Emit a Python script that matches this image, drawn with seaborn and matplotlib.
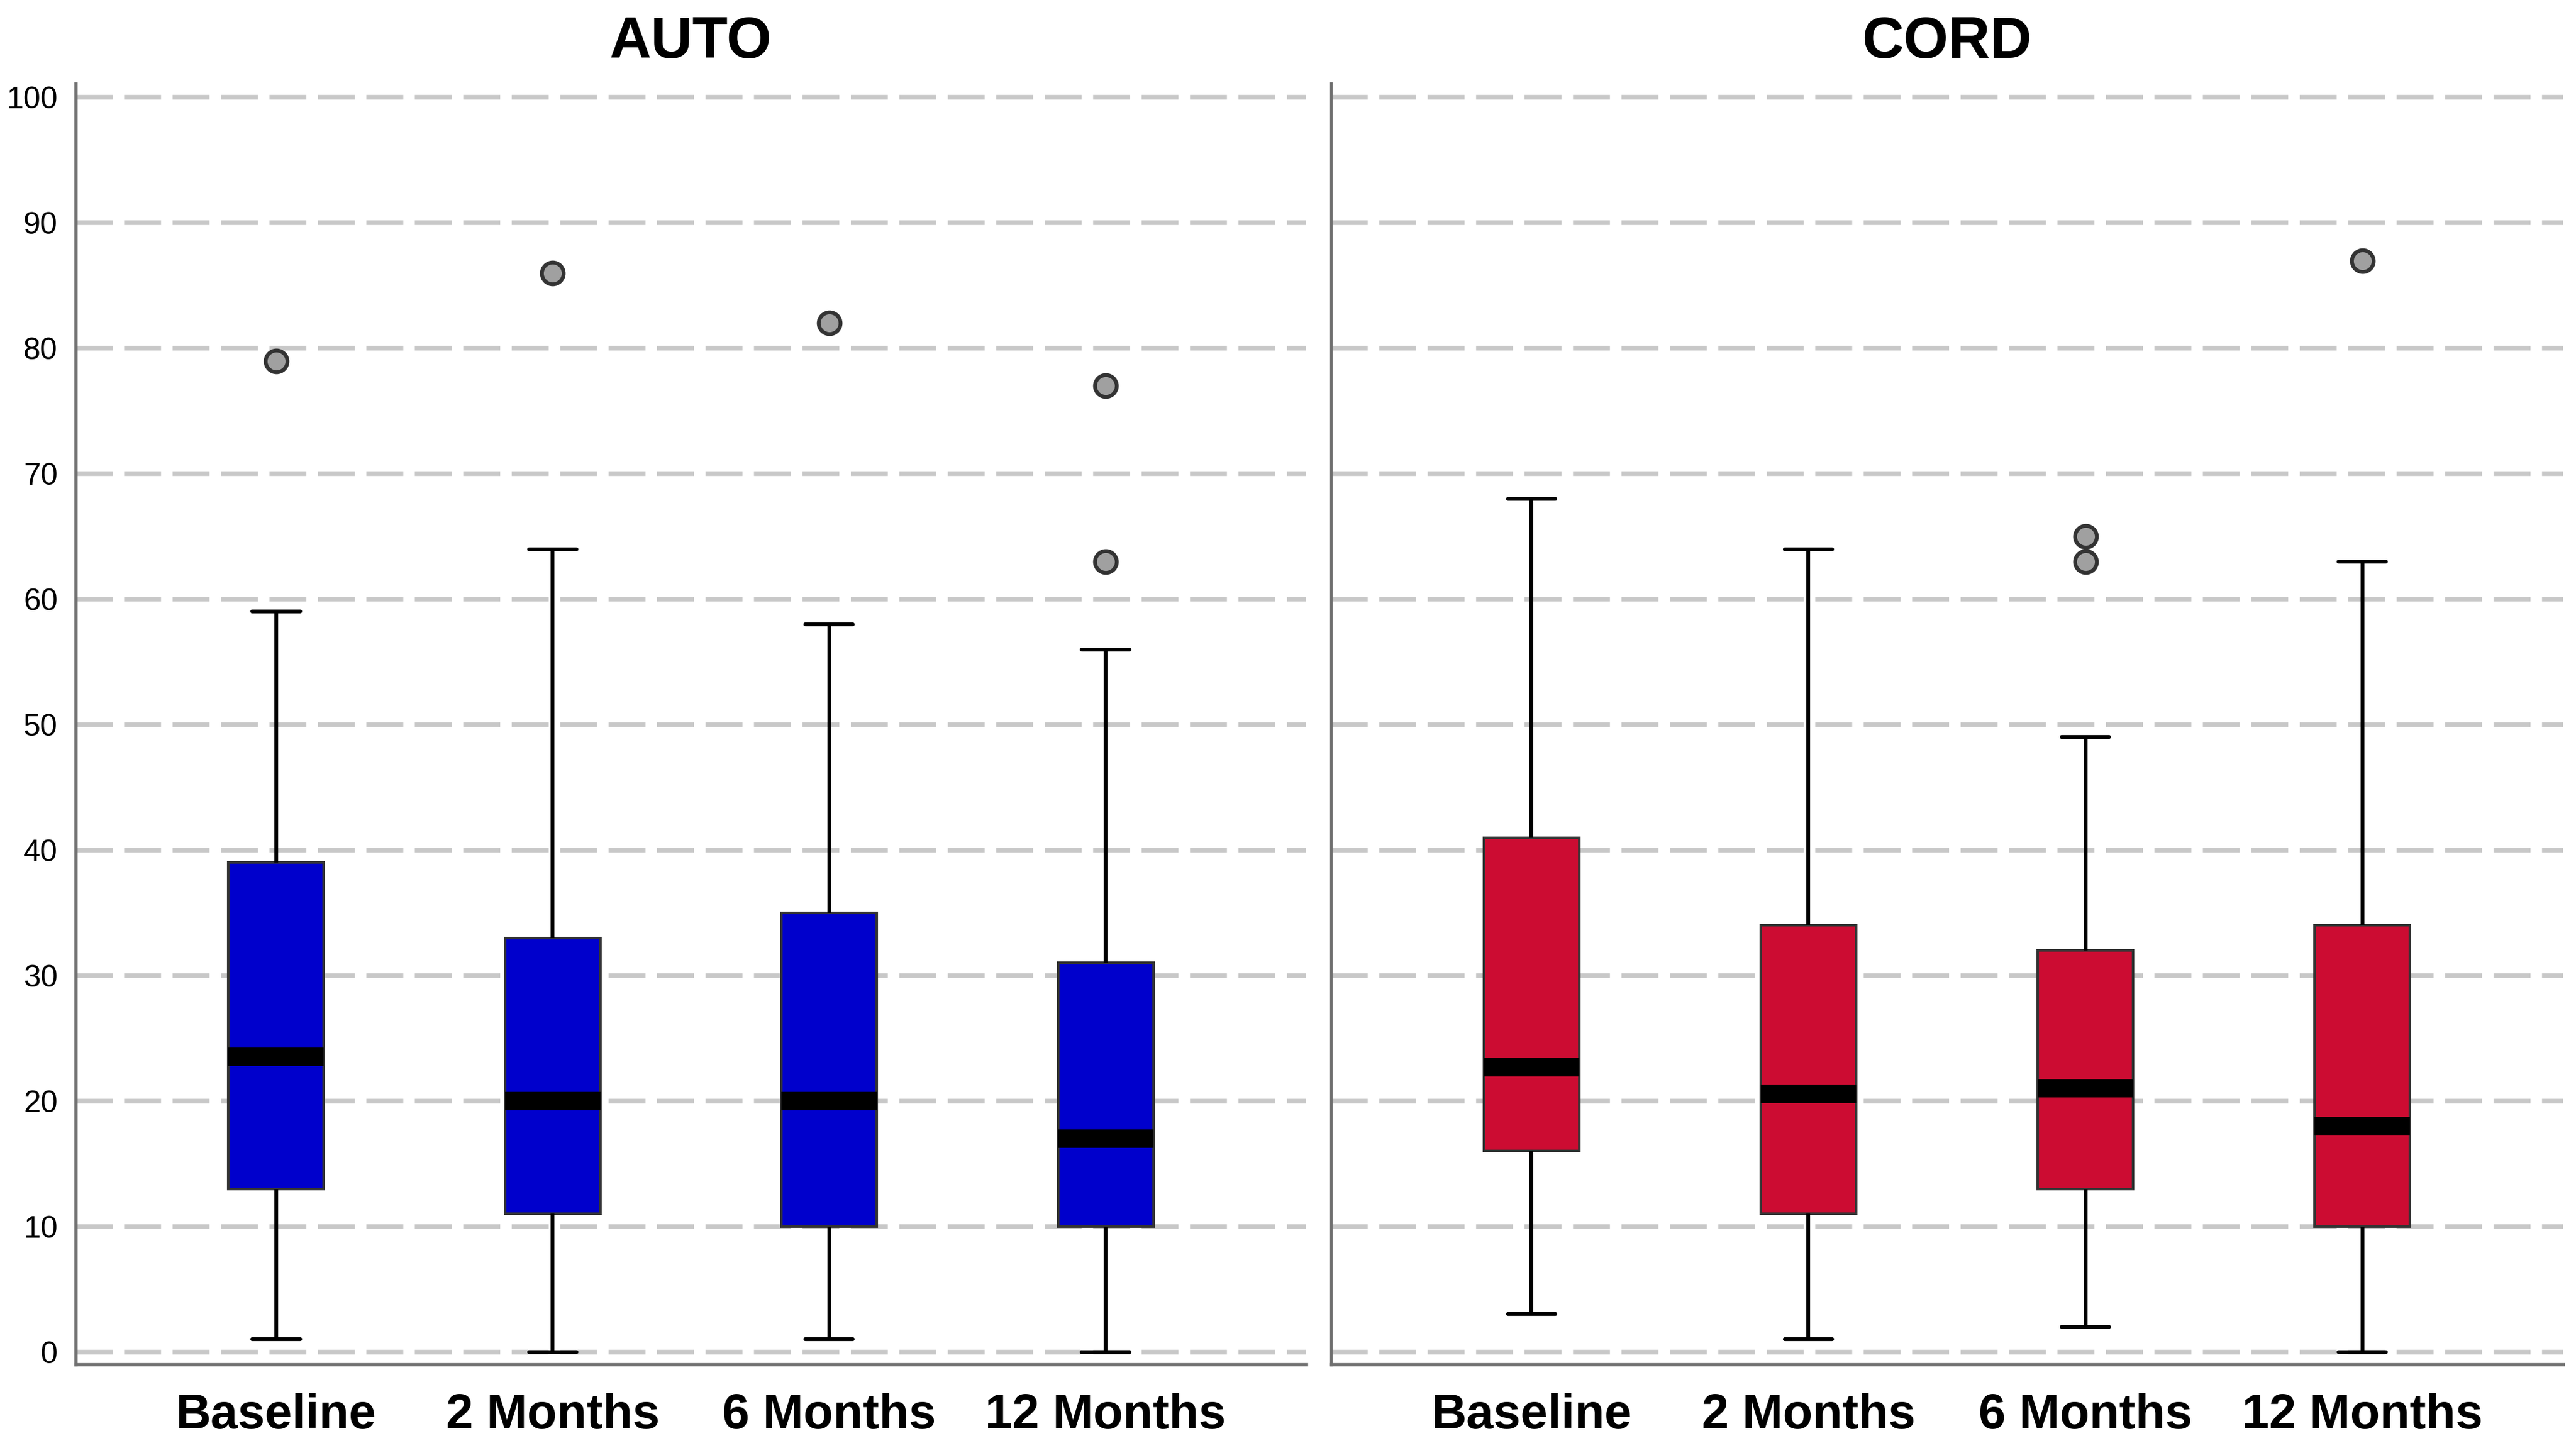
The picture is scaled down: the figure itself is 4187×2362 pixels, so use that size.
import numpy as np
import pandas as pd
import matplotlib
matplotlib.use("Agg")
import matplotlib.pyplot as plt
import seaborn as sns

# ---------------- data ----------------
time_points = ["Baseline", "2 Months", "6 Months", "12 Months"]
panel_names = ["AUTO", "CORD"]

# five-number summaries: lower whisker, Q1, median, Q3, upper whisker
auto_low = [1, 0, 1, 0]
auto_q1 = [13, 11, 10, 10]
auto_median = [23.5, 20, 20, 17]
auto_q3 = [39, 33, 35, 31]
auto_high = [59, 64, 58, 56]

cord_low = [3, 1, 2, 0]
cord_q1 = [16, 11, 13, 10]
cord_median = [22.7, 20.6, 21, 18]
cord_q3 = [41, 34, 32, 34]
cord_high = [68, 64, 49, 63]

auto_outlier_time = ["Baseline", "2 Months", "6 Months", "12 Months", "12 Months"]
auto_outlier_value = [79, 86, 82, 63, 77]
cord_outlier_time = ["6 Months", "6 Months", "12 Months"]
cord_outlier_value = [63, 65, 87]

y_ticks = [0, 10, 20, 30, 40, 50, 60, 70, 80, 90, 100]

auto_color = "#0000CC"
cord_color = "#CC0C32"


def box_frame(low, q1, med, q3, high):
    rows = []
    for i, t in enumerate(time_points):
        for v in (low[i], q1[i], med[i], q3[i], high[i]):
            rows.append({"time": t, "value": v})
    return pd.DataFrame(rows)


auto_box = box_frame(auto_low, auto_q1, auto_median, auto_q3, auto_high)
cord_box = box_frame(cord_low, cord_q1, cord_median, cord_q3, cord_high)
auto_out = pd.DataFrame({"time": auto_outlier_time, "value": auto_outlier_value})
cord_out = pd.DataFrame({"time": cord_outlier_time, "value": cord_outlier_value})

# ---------------- style ----------------
sns.set_style("white")
plt.rcParams["font.family"] = ["Liberation Sans", "DejaVu Sans"]
plt.rcParams["text.color"] = "black"

W, H = 4187, 2362
fig = plt.figure(figsize=(W / 300, H / 300), dpi=300)
bottom = 1 - 2218 / H
height = (2218 - 136) / H
ax1 = fig.add_axes([123 / W, bottom, (2123 - 123) / W, height])
ax2 = fig.add_axes([2163 / W, bottom, (4166 - 2163) / W, height])

for ax, name, dfb, dfo, col in [
    (ax1, panel_names[0], auto_box, auto_out, auto_color),
    (ax2, panel_names[1], cord_box, cord_out, cord_color),
]:
    sns.boxplot(
        data=dfb, x="time", y="value", order=time_points, ax=ax,
        color=col, saturation=1, width=0.345, whis=1.5, showfliers=False,
        linecolor="#333333", linewidth=1.0,
        boxprops=dict(edgecolor="#333333", linewidth=1.0),
        medianprops=dict(color="black", linewidth=7.2, solid_capstyle="butt"),
        whiskerprops=dict(color="black", linewidth=1.5),
        capprops=dict(color="black", linewidth=1.5),
    )
    sns.stripplot(
        data=dfo, x="time", y="value", order=time_points, ax=ax,
        jitter=False, color="#A0A0A0", edgecolor="#333333", linewidth=1.5,
        size=8.5, zorder=5,
    )
    ax.set_xlim(-0.725, 3.725)
    ax.set_ylim(-1.0, 101.1)
    ax.set_yticks(y_ticks)
    ax.set_xlabel("")
    ax.set_ylabel("")
    ax.set_axisbelow(True)
    ax.yaxis.grid(True, color="#C8C8C8", linewidth=1.8, linestyle=(0, (8, 2.5)))
    ax.xaxis.grid(False)
    for s in ("top", "right"):
        ax.spines[s].set_visible(False)
    for s in ("left", "bottom"):
        ax.spines[s].set_color("#707070")
        ax.spines[s].set_linewidth(1.3)
    ax.tick_params(axis="both", length=0)
    ax.tick_params(axis="y", labelsize=12, pad=7, labelcolor="black")
    ax.tick_params(axis="x", labelsize=19, pad=11, labelcolor="black")
    for lab in ax.get_xticklabels():
        lab.set_fontweight("bold")
    ax.set_title(name, fontsize=22.5, fontweight="bold", pad=10, color="black")

ax2.tick_params(axis="y", labelleft=False)

fig.savefig("out.png", dpi=300)
